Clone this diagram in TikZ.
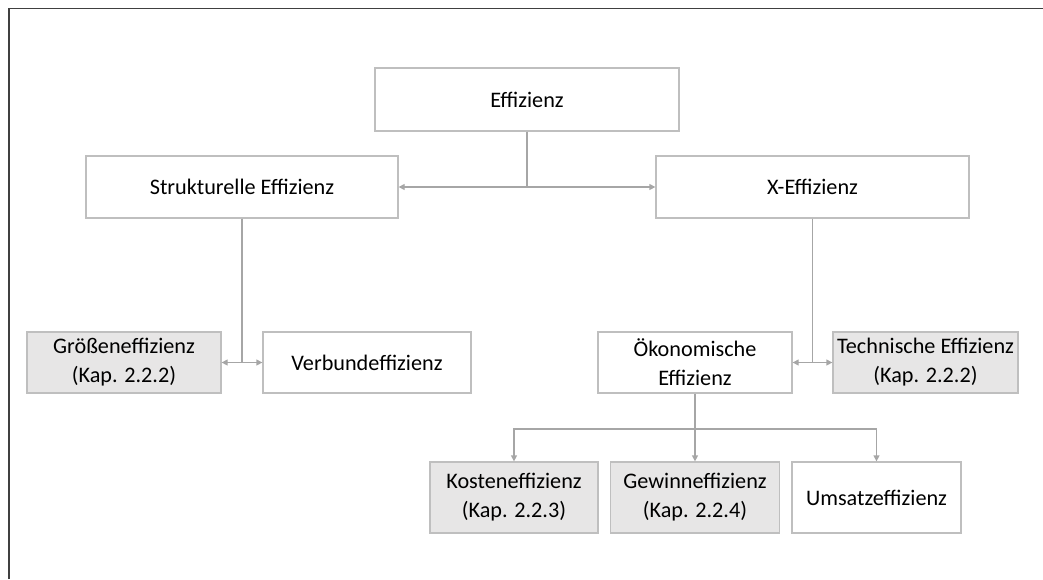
\documentclass[tikz,border=0pt]{standalone}
\usepackage{fontspec}
\setmainfont{Carlito}
\usetikzlibrary{arrows.meta}
\definecolor{boxline}{HTML}{BFBFBF}
\definecolor{boxfill}{HTML}{E7E6E6}
\definecolor{conn}{HTML}{A6A6A6}
\definecolor{frame}{HTML}{404040}
\tikzset{
  box/.style={draw=boxline, line width=1.3pt, fill=white, inner sep=0pt, align=center,
    font=\fontsize{22.2}{29}\selectfont, text=black},
  shaded/.style={box, fill=boxfill},
  conn/.style={draw=conn, line width=1.3pt},
  arr/.style={conn, -{Triangle[length=6pt,width=6pt]}},
}
\begin{document}
\begin{tikzpicture}[x=1pt,y=-1pt]
\useasboundingbox (0,0) rectangle (1043,579);
\draw[frame, line width=1.8pt] (9,579) -- (9,8.5) -- (1043,8.5);
% nodes
\node[box, minimum width=304pt, minimum height=63pt] (eff) at (527,99.5) {Effizienz};
\node[box, minimum width=312pt, minimum height=62pt] (struk) at (242,187) {Strukturelle Effizienz};
\node[box, minimum width=313pt, minimum height=62pt] (xeff) at (812.5,187) {X-Effizienz};
\node[shaded, minimum width=194pt, minimum height=61pt] (groesse) at (124,362.5) {Größeneffizienz\\(Kap. 2.2.2)};
\node[box, minimum width=208pt, minimum height=61pt] (verbund) at (367,362.5) {Verbundeffizienz};
\node[box, minimum width=194pt, minimum height=61pt] (oekon) at (695,362.5) {Ökonomische\\Effizienz};
\node[shaded, minimum width=185pt, minimum height=61pt] (tech) at (925.5,362.5) {Technische Effizienz\\(Kap. 2.2.2)};
\node[shaded, minimum width=168pt, minimum height=71pt] (kosten) at (514,497.5) {Kosteneffizienz\\(Kap. 2.2.3)};
\node[shaded, minimum width=169pt, minimum height=71pt] (gewinn) at (695,497.5) {Gewinneffizienz\\(Kap. 2.2.4)};
\node[box, minimum width=169pt, minimum height=71pt] (umsatz) at (876.5,497.5) {Umsatzeffizienz};
% connectors
\draw[arr] (eff.south) |- (struk.east);
\draw[arr] (eff.south) |- (xeff.west);
\draw[arr] (struk.south) |- (groesse.east);
\draw[arr] (struk.south) |- (verbund.west);
\draw[arr] (xeff.south) |- (oekon.east);
\draw[arr] (xeff.south) |- (tech.west);
\coordinate (split) at (695,429);
\draw[conn] (oekon.south) -- (split);
\draw[arr] (split) -| (kosten.north);
\draw[arr] (split) -- (gewinn.north);
\draw[arr] (split) -| (umsatz.north);
\end{tikzpicture}
\end{document}
